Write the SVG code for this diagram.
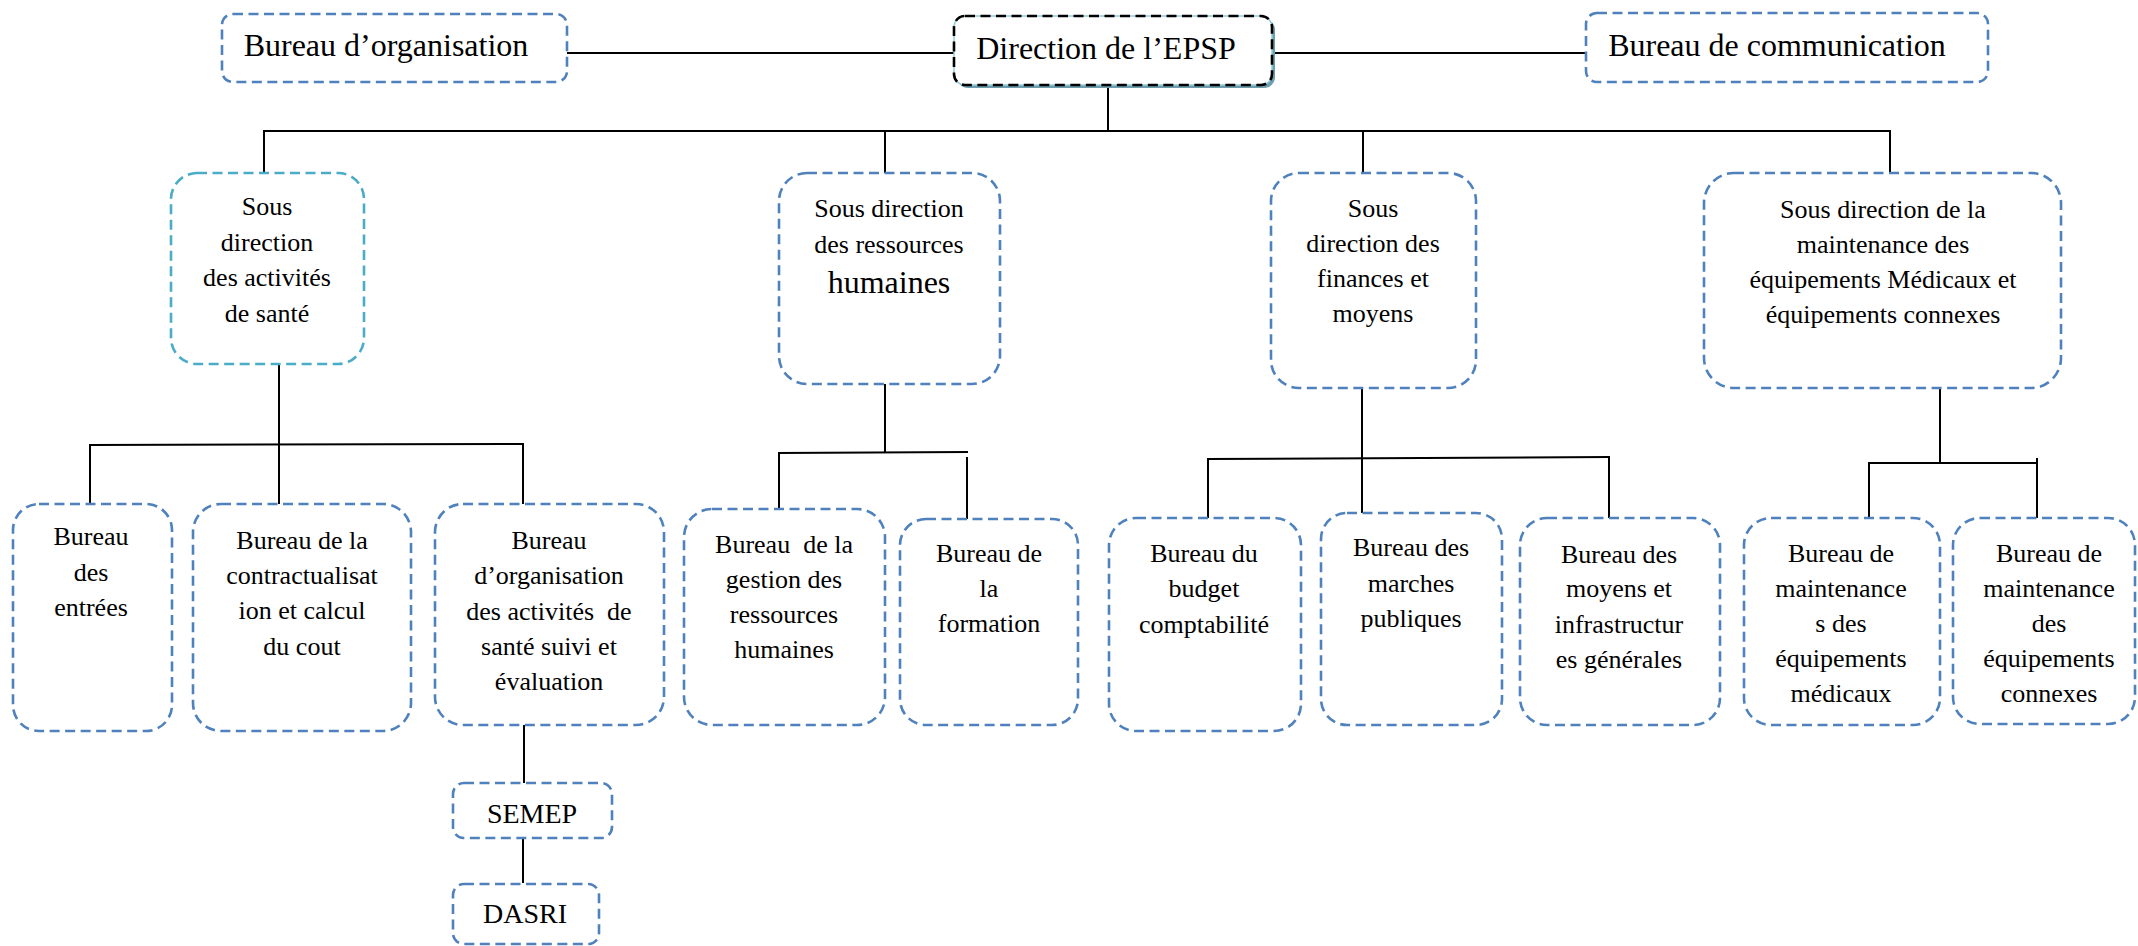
<svg xmlns="http://www.w3.org/2000/svg" width="2138" height="946" viewBox="0 0 2138 946">
<style>
.box{fill:#ffffff;stroke:#4F81BD;stroke-width:2.6;stroke-dasharray:10 5.5;}
.teal{stroke:#4BACC6;}
.t{font-family:"Liberation Serif","Times New Roman",serif;font-size:26px;fill:#000;text-anchor:middle;}
.big{font-size:32px;}
.mid{font-size:28px;}
.pre{white-space:pre;}
.ln{stroke:#000;stroke-width:2;fill:none;}
</style>
<rect width="2138" height="946" fill="#ffffff"/>
<g id="connectors">
<line class="ln" x1="567" y1="53" x2="954" y2="53"/>
<line class="ln" x1="1272" y1="53" x2="1586" y2="53"/>
<line class="ln" x1="1108" y1="86" x2="1108" y2="131"/>
<line class="ln" x1="263" y1="131" x2="1891" y2="131" stroke-width="2.4"/>
<line class="ln" x1="264" y1="131" x2="264" y2="173"/>
<line class="ln" x1="885" y1="131" x2="885" y2="173"/>
<line class="ln" x1="1363" y1="131" x2="1363" y2="173"/>
<line class="ln" x1="1890" y1="131" x2="1890" y2="173"/>
<line class="ln" x1="279" y1="364" x2="279" y2="504"/>
<line class="ln" x1="89" y1="445" x2="524" y2="444" stroke-width="2.4"/>
<line class="ln" x1="90" y1="445" x2="90" y2="504"/>
<line class="ln" x1="523" y1="444" x2="523" y2="504"/>
<line class="ln" x1="885" y1="384" x2="885" y2="452"/>
<line class="ln" x1="778" y1="453" x2="968" y2="452" stroke-width="2.4"/>
<line class="ln" x1="779" y1="453" x2="779" y2="509"/>
<line class="ln" x1="967" y1="457" x2="967" y2="519"/>
<line class="ln" x1="1362" y1="388" x2="1362" y2="513"/>
<line class="ln" x1="1207" y1="459" x2="1610" y2="457" stroke-width="2.4"/>
<line class="ln" x1="1208" y1="459" x2="1208" y2="518"/>
<line class="ln" x1="1609" y1="457" x2="1609" y2="518"/>
<line class="ln" x1="1940" y1="388" x2="1940" y2="463"/>
<line class="ln" x1="1868" y1="463" x2="2038" y2="463" stroke-width="2.4"/>
<line class="ln" x1="1869" y1="463" x2="1869" y2="518"/>
<line class="ln" x1="2037" y1="458" x2="2037" y2="518"/>
<line class="ln" x1="524" y1="725" x2="524" y2="783"/>
<line class="ln" x1="523" y1="838" x2="523" y2="883"/>
</g>
<g id="bureau-organisation">
<rect class="box" x="222" y="14" width="345" height="68" rx="11"/>
<text class="t big" x="386" y="56">Bureau d’organisation</text>
</g>
<g id="direction">
<rect x="957" y="19" width="318" height="69" rx="11" fill="#6E9DAD"/>
<rect x="954" y="16" width="318" height="69" rx="11" fill="#ffffff" stroke="#92CDDC" stroke-width="1.5"/>
<rect x="954" y="16" width="318" height="69" rx="11" fill="none" stroke="#000" stroke-width="2.6" stroke-dasharray="10 5.5"/>
<text class="t big" x="1106" y="59">Direction de l’EPSP</text>
</g>
<g id="bureau-communication">
<rect class="box" x="1586" y="13" width="402" height="69" rx="11"/>
<text class="t big" x="1777" y="56">Bureau de communication</text>
</g>
<g id="sd-sante">
<rect class="box teal" x="171" y="173" width="193" height="191" rx="26"/>
<text class="t" x="267" y="215">Sous</text>
<text class="t" x="267" y="251">direction</text>
<text class="t" x="267" y="286">des activités</text>
<text class="t" x="267" y="322">de santé</text>
</g>
<g id="sd-rh">
<rect class="box" x="779" y="173" width="221" height="211" rx="28"/>
<text class="t" x="889" y="217">Sous direction</text>
<text class="t" x="889" y="253">des ressources</text>
<text class="t big" x="889" y="293">humaines</text>
</g>
<g id="sd-finances">
<rect class="box" x="1271" y="173" width="205" height="215" rx="28"/>
<text class="t" x="1373" y="217">Sous</text>
<text class="t" x="1373" y="252">direction des</text>
<text class="t" x="1373" y="287">finances et</text>
<text class="t" x="1373" y="322">moyens</text>
</g>
<g id="sd-maintenance">
<rect class="box" x="1704" y="173" width="357" height="215" rx="30"/>
<text class="t" x="1883" y="218">Sous direction de la</text>
<text class="t" x="1883" y="253">maintenance des</text>
<text class="t" x="1883" y="288">équipements Médicaux et</text>
<text class="t" x="1883" y="323">équipements connexes</text>
</g>
<g id="bureau-entrees">
<rect class="box" x="13" y="504" width="159" height="227" rx="26"/>
<text class="t" x="91" y="545">Bureau</text>
<text class="t" x="91" y="581">des</text>
<text class="t" x="91" y="616">entrées</text>
</g>
<g id="bureau-contractualisation">
<rect class="box" x="193" y="504" width="218" height="227" rx="28"/>
<text class="t" x="302" y="549">Bureau de la</text>
<text class="t" x="302" y="584">contractualisat</text>
<text class="t" x="302" y="619">ion et calcul</text>
<text class="t" x="302" y="655">du cout</text>
</g>
<g id="bureau-organisation-activites">
<rect class="box" x="435" y="504" width="229" height="221" rx="28"/>
<text class="t" x="549" y="549">Bureau</text>
<text class="t" x="549" y="584">d’organisation</text>
<text class="t pre" x="549" y="620">des activités  de</text>
<text class="t" x="549" y="655">santé suivi et</text>
<text class="t" x="549" y="690">évaluation</text>
</g>
<g id="bureau-gestion-rh">
<rect class="box" x="684" y="509" width="201" height="216" rx="28"/>
<text class="t pre" x="784" y="553">Bureau  de la</text>
<text class="t" x="784" y="588">gestion des</text>
<text class="t" x="784" y="623">ressources</text>
<text class="t" x="784" y="658">humaines</text>
</g>
<g id="bureau-formation">
<rect class="box" x="900" y="519" width="178" height="206" rx="26"/>
<text class="t" x="989" y="562">Bureau de</text>
<text class="t" x="989" y="597">la</text>
<text class="t" x="989" y="632">formation</text>
</g>
<g id="bureau-budget">
<rect class="box" x="1109" y="518" width="192" height="213" rx="27"/>
<text class="t" x="1204" y="562">Bureau du</text>
<text class="t" x="1204" y="597">budget</text>
<text class="t" x="1204" y="633">comptabilité</text>
</g>
<g id="bureau-marches">
<rect class="box" x="1321" y="513" width="181" height="212" rx="26"/>
<text class="t" x="1411" y="556">Bureau des</text>
<text class="t" x="1411" y="592">marches</text>
<text class="t" x="1411" y="627">publiques</text>
</g>
<g id="bureau-moyens">
<rect class="box" x="1520" y="518" width="200" height="207" rx="27"/>
<text class="t" x="1619" y="563">Bureau des</text>
<text class="t" x="1619" y="597">moyens et</text>
<text class="t" x="1619" y="633">infrastructur</text>
<text class="t" x="1619" y="668">es générales</text>
</g>
<g id="bureau-maint-medicaux">
<rect class="box" x="1744" y="518" width="196" height="207" rx="27"/>
<text class="t" x="1841" y="562">Bureau de</text>
<text class="t" x="1841" y="597">maintenance</text>
<text class="t" x="1841" y="632">s des</text>
<text class="t" x="1841" y="667">équipements</text>
<text class="t" x="1841" y="702">médicaux</text>
</g>
<g id="bureau-maint-connexes">
<rect class="box" x="1953" y="518" width="182" height="206" rx="27"/>
<text class="t" x="2049" y="562">Bureau de</text>
<text class="t" x="2049" y="597">maintenance</text>
<text class="t" x="2049" y="632">des</text>
<text class="t" x="2049" y="667">équipements</text>
<text class="t" x="2049" y="702">connexes</text>
</g>
<g id="semep">
<rect class="box" x="453" y="783" width="159" height="55" rx="11"/>
<text class="t mid" x="532" y="823">SEMEP</text>
</g>
<g id="dasri">
<rect class="box" x="453" y="884" width="146" height="60" rx="11"/>
<text class="t mid" x="525" y="923">DASRI</text>
</g>
</svg>
